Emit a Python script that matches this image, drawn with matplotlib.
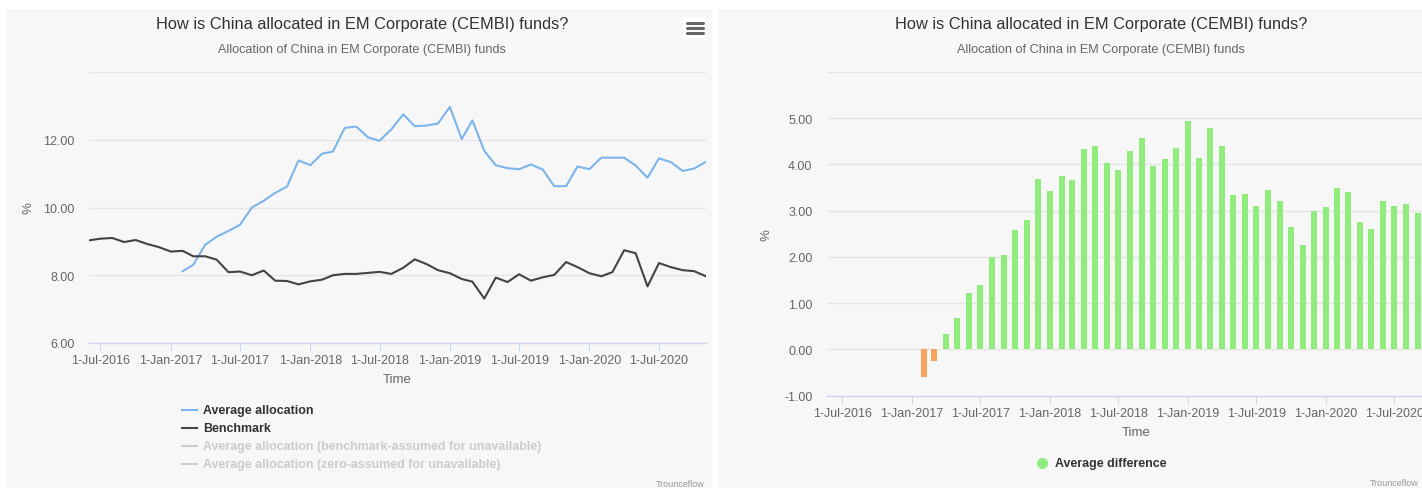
import numpy as np
import pandas as pd
import matplotlib
matplotlib.use("Agg")
import matplotlib.pyplot as plt
from matplotlib.patches import Rectangle
from matplotlib.lines import Line2D

# ---- data ----
months = pd.date_range("2016-06-01", "2020-11-01", freq="MS")

benchmark = [9.03, 9.08, 9.10, 8.98, 9.04, 8.92, 8.83, 8.70, 8.72, 8.56, 8.56, 8.46,
             8.09, 8.11, 8.00, 8.14, 7.84, 7.83, 7.73, 7.82, 7.87, 8.00, 8.04, 8.04,
             8.07, 8.10, 8.04, 8.22, 8.47, 8.33, 8.15, 8.06, 7.89, 7.81, 7.31, 7.93,
             7.80, 8.03, 7.84, 7.94, 8.01, 8.39, 8.24, 8.06, 7.97, 8.09, 8.74, 8.65,
             7.67, 8.36, 8.24, 8.15, 8.12, 7.97]

avg_allocation = [None] * 8 + [
    8.12, 8.31, 8.90, 9.14, 9.31, 9.49, 10.00, 10.20, 10.43, 10.62, 11.39, 11.25,
    11.59, 11.65, 12.35, 12.39, 12.07, 11.97, 12.31, 12.75, 12.40, 12.42, 12.48, 12.97,
    12.02, 12.57, 11.67, 11.25, 11.16, 11.13, 11.27, 11.12, 10.63, 10.63, 11.21, 11.13,
    11.47, 11.47, 11.47, 11.24, 10.88, 11.45, 11.34, 11.08, 11.15, 11.35]

diff_months = months[8:52]
avg_difference = [-0.60, -0.26, 0.33, 0.69, 1.22, 1.39, 2.00, 2.04, 2.59, 2.80,
                  3.68, 3.43, 3.75, 3.66, 4.34, 4.40, 4.04, 3.89, 4.30, 4.57,
                  3.96, 4.11, 4.36, 4.95, 4.15, 4.78, 4.39, 3.33, 3.37, 3.11,
                  3.45, 3.20, 2.65, 2.25, 2.99, 3.07, 3.50, 3.41, 2.75, 2.61,
                  3.22, 3.10, 3.14, 2.96]

title = "How is China allocated in EM Corporate (CEMBI) funds?"
subtitle = "Allocation of China in EM Corporate (CEMBI) funds"
tick_dates = pd.to_datetime(["2016-07-01", "2017-01-01", "2017-07-01", "2018-01-01",
                             "2018-07-01", "2019-01-01", "2019-07-01", "2020-01-01",
                             "2020-07-01"])
tick_labels = [f"{d.day}-{d.strftime('%b')}-{d.year}" for d in tick_dates]

# ---- style ----
W, H = 1422, 489
BG = "#f7f7f7"
plt.rcParams["font.family"] = ["Liberation Sans", "DejaVu Sans"]


def px(x, y):
    return x / W, 1 - y / H


def ax_rect(x0, y0, x1, y1):
    return [x0 / W, 1 - y1 / H, (x1 - x0) / W, (y1 - y0) / H]


def style_axes(ax, yticks, ylim, xlim):
    ax.set_zorder(2)
    ax.set_facecolor(BG)
    for s in ["top", "right", "left"]:
        ax.spines[s].set_visible(False)
    ax.spines["bottom"].set_color("#ccd6eb")
    ax.spines["bottom"].set_linewidth(1)
    ax.set_ylim(*ylim)
    ax.set_xlim(*xlim)
    ax.set_yticks(yticks)
    ax.set_yticklabels([f"{v:.2f}" if v != yticks[-1] else "" for v in yticks])
    ax.yaxis.grid(True, color="#e6e6e6", lw=1)
    ax.set_axisbelow(True)
    ax.tick_params(axis="y", length=0, pad=10.5, labelsize=9, labelcolor="#666666")
    ax.set_xticks(tick_dates)
    ax.set_xticklabels(tick_labels)
    ax.tick_params(axis="x", length=6, color="#ccd6eb", labelsize=9,
                   labelcolor="#666666", pad=2)
    ax.set_xlabel("Time", fontsize=9.5, color="#666666", labelpad=5)


fig = plt.figure(figsize=(W / 100, H / 100), dpi=100)
fig.patch.set_facecolor("white")

# panel backgrounds
fig.patches.append(Rectangle(px(7, 489), 705 / W, 479 / H, transform=fig.transFigure,
                             facecolor=BG, edgecolor="none", zorder=-1))
fig.patches.append(Rectangle(px(719, 489), 720 / W, 479 / H, transform=fig.transFigure,
                             facecolor=BG, edgecolor="none", zorder=-1))

# ---- left chart: lines ----
ax1 = fig.add_axes(ax_rect(89, 73, 706, 344))
style_axes(ax1, [6, 8, 10, 12, 14], (6, 14),
           (pd.Timestamp("2016-06-01"), pd.Timestamp("2020-11-01")))
alloc = np.array([np.nan if v is None else v for v in avg_allocation])
ax1.plot(months, alloc, color="#7cb5ec", lw=1.5, solid_joinstyle="round")
ax1.plot(months, benchmark, color="#434348", lw=1.5, solid_joinstyle="round")

fig.text(*px(362, 24), title, ha="center", va="center", fontsize=11.8, color="#333333")
fig.text(*px(362, 50), subtitle, ha="center", va="center", fontsize=9.1, color="#666666")
fig.text(*px(28, 208), "%", ha="center", va="center", rotation=90, fontsize=9.5,
         color="#666666")

legend_items = [("Average allocation", "#7cb5ec", "#333333"),
                ("Benchmark", "#434348", "#333333"),
                ("Average allocation (benchmark-assumed for unavailable)", "#cccccc", "#cccccc"),
                ("Average allocation (zero-assumed for unavailable)", "#cccccc", "#cccccc")]
for k, (name, lc, tc) in enumerate(legend_items):
    y = 411 + 18 * k
    x0, y0 = px(182, y)
    x1, _ = px(197, y)
    fig.lines.append(Line2D([x0, x1], [y0, y0], transform=fig.transFigure,
                            color=lc, lw=1.5))
    fig.text(*px(203, y), name, ha="left", va="center", fontsize=8.9,
             fontweight="bold", color=tc)

fig.text(*px(705, 485), "Trounceflow", ha="right", va="center", fontsize=6.5, color="#999999")

# hamburger menu icon
fig.patches.append(Rectangle(px(683, 39), 22 / W, 21 / H, transform=fig.transFigure,
                             facecolor="white", edgecolor="none", zorder=1))
for yy in (24, 29, 34):
    a, b = px(687, yy)
    c, _ = px(703, yy)
    fig.lines.append(Line2D([a, c], [b, b], transform=fig.transFigure,
                            color="#666666", lw=2.2, solid_capstyle="round", zorder=2))

# ---- right chart: columns ----
ax2 = fig.add_axes(ax_rect(827, 73, 1445, 396.7))
style_axes(ax2, [-1, 0, 1, 2, 3, 4, 5, 6], (-1, 6),
           (pd.Timestamp("2016-05-21"), pd.Timestamp("2020-11-12")))
bar_colors = ["#f7a35c" if v < 0 else "#90ed7d" for v in avg_difference]
ax2.bar(diff_months, avg_difference, width=16, color=bar_colors, zorder=3)

fig.text(*px(1101, 24), title, ha="center", va="center", fontsize=11.8, color="#333333")
fig.text(*px(1101, 50), subtitle, ha="center", va="center", fontsize=9.1, color="#666666")
fig.text(*px(766, 235), "%", ha="center", va="center", rotation=90, fontsize=9.5,
         color="#666666")

cx, cy = px(1042, 464)
fig.lines.append(Line2D([cx], [cy], transform=fig.transFigure, marker="o", markersize=8,
                        markerfacecolor="#90ed7d", markeredgecolor="none", linestyle="none"))
fig.text(*px(1055, 464), "Average difference", ha="left", va="center", fontsize=8.9,
         fontweight="bold", color="#333333")
fig.text(*px(1419, 484), "Trounceflow", ha="right", va="center", fontsize=6.5,
         color="#999999")

fig.savefig("out.png", dpi=100, facecolor=fig.get_facecolor())
